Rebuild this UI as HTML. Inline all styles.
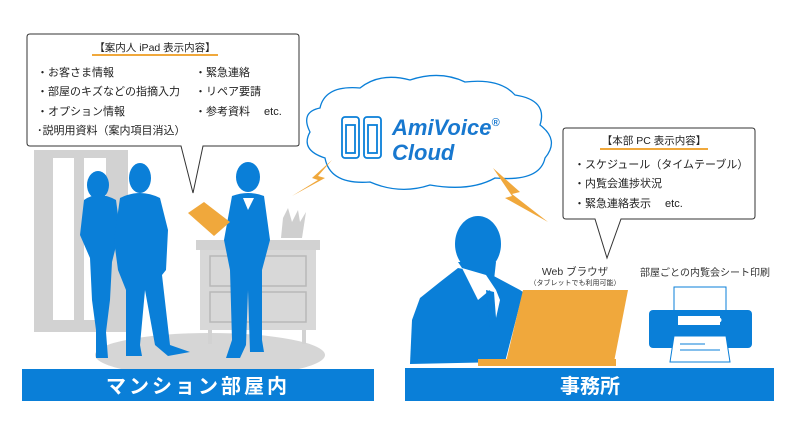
<!DOCTYPE html>
<html><head><meta charset="utf-8"><style>
html,body{margin:0;padding:0;background:#fff;}
svg{display:block;}
text{font-family:"Liberation Sans","Noto Sans CJK JP",sans-serif;}
</style></head><body>
<svg width="800" height="429" viewBox="0 0 800 429" xmlns="http://www.w3.org/2000/svg">
<rect x="34" y="150" width="94" height="182" fill="#d2d2d2"/>
<rect x="53" y="158" width="21" height="162" fill="#fff"/>
<rect x="84" y="158" width="22" height="162" fill="#fff"/>
<ellipse cx="210" cy="355" rx="115" ry="22" fill="#d6d6d6"/>
<rect x="196" y="240" width="124" height="10" fill="#d2d2d2"/>
<rect x="200" y="250" width="116" height="80" fill="#d8d8d8"/>
<rect x="210" y="256" width="96" height="30" fill="#d8d8d8" stroke="#b8b8b8" stroke-width="1.5"/>
<rect x="210" y="292" width="96" height="30" fill="#d8d8d8" stroke="#b8b8b8" stroke-width="1.5"/>
<rect x="208" y="330" width="4" height="14" fill="#d2d2d2"/>
<rect x="302" y="330" width="4" height="14" fill="#d2d2d2"/>
<path d="M281 238 L283 218 L288 208 L292 222 L298 210 L300 222 L306 212 L302 238 Z" fill="#cfcfcf"/>
<g fill="#0a7fd8">
<ellipse cx="98" cy="185" rx="11" ry="14"/>
<path d="M84 200 Q98 190 116 200 L120 230 L112 262 L110 300 L106 332 L108 358 L96 358 L96 330 L92 300 L90 258 L80 235 Z"/>
<ellipse cx="140" cy="178" rx="11" ry="15"/>
<path d="M120 198 Q140 188 160 198 L168 230 L166 270 L162 275 L170 345 L190 352 L168 356 L155 345 L145 290 L140 345 L142 356 L126 356 L126 290 L118 270 L114 240 Z"/>
<ellipse cx="248" cy="177" rx="12" ry="15"/>
<path d="M232 196 Q248 190 264 196 L270 240 L262 270 L262 340 L264 352 L250 352 L248 290 L246 345 L240 358 L226 358 L232 340 L230 270 L224 240 Z"/>
</g>
<path d="M243 198 L248 210 L254 198 Z" fill="#fff"/>
<path d="M188 213 L204 202 L230 222 L214 236 Z" fill="#f0a83c"/>
<path d="M30 34 H296 Q299 34 299 37 V144 Q299 146 296 146 H203 L193 193 L181 146 H30 Q27 146 27 143 V37 Q27 34 30 34 Z" fill="#fff" stroke="#333" stroke-width="1"/>
<text x="155" y="51" font-size="10.5" text-anchor="middle" fill="#222">【案内人 iPad 表示内容】</text>
<rect x="92" y="54" width="126" height="2" fill="#f0a83c"/>
<g font-size="11" fill="#222">
<text x="37" y="76">・お客さま情報</text>
<text x="37" y="95">・部屋のキズなどの指摘入力</text>
<text x="37" y="115">・オプション情報</text>
<text x="37" y="134">･説明用資料（案内項目消込）</text>
<text x="195" y="76">・緊急連絡</text>
<text x="195" y="95">・リペア要請</text>
<text x="195" y="115">・参考資料　 etc.</text>
</g>
<path d="M320 108 Q300 112 310 132 Q300 150 325 158 Q330 185 370 182 Q400 195 430 185 Q470 192 495 178 Q540 182 545 158 Q560 140 540 125 Q548 100 515 95 Q500 78 465 82 Q440 70 410 80 Q380 72 360 88 Q325 85 320 108 Z" fill="#fff" stroke="#0a7fd8" stroke-width="1.3"/>
<g fill="#fff" stroke="#0a7fd8" stroke-width="1.8">
<rect x="342" y="117" width="17" height="41" rx="3"/>
<rect x="364" y="117" width="17" height="41" rx="3"/>
<rect x="346" y="125" width="9" height="28"/>
<rect x="368" y="125" width="9" height="28"/>
</g>
<text x="392" y="135" font-size="22" font-weight="bold" font-style="italic" fill="#1878cf">AmiVoice<tspan font-size="11" dy="-9">®</tspan></text>
<text x="392" y="160" font-size="22" font-weight="bold" font-style="italic" fill="#1878cf">Cloud</text>
<path d="M332 160 L312 178 L318 180 L292 196 L325 178 L318 176 Z" fill="#f0a83c"/>
<path d="M493 168 L520 192 L512 194 L548 222 L505 198 L512 196 Z" fill="#f0a83c"/>
<path d="M566 128 H752 Q755 128 755 131 V216 Q755 219 752 219 H621 L607 258 L595 219 H566 Q563 219 563 216 V131 Q563 128 566 128 Z" fill="#fff" stroke="#333" stroke-width="1"/>
<text x="654" y="144" font-size="10.5" text-anchor="middle" fill="#222">【本部 PC 表示内容】</text>
<rect x="600" y="148" width="108" height="2" fill="#f0a83c"/>
<g font-size="11" fill="#222">
<text x="574" y="168">・スケジュール（タイムテーブル）</text>
<text x="574" y="187">・内覧会進捗状況</text>
<text x="574" y="207">・緊急連絡表示　 etc.</text>
</g>
<g fill="#0a7fd8">
<ellipse cx="478" cy="244" rx="23" ry="28"/>
<path d="M458 262 L496 262 L494 280 L470 280 Z"/>
<path d="M458 268 L490 274 L520 290 L523 292 L505 362 L410 364 L412 320 L420 298 L440 282 Z"/>
</g>
<path d="M462 268 L478 300 L490 290 L496 318 L500 300 L496 290 L486 275 Z" fill="#fff"/>
<path d="M486 290 L494 292 L496 318 L490 330 Z" fill="#0a7fd8"/>
<path d="M523 290 L628 290 L614 362 L506 362 Z" fill="#f0a83c"/>
<rect x="478" y="359" width="138" height="7" fill="#f0a83c"/>
<text x="575" y="275" font-size="10.5" text-anchor="middle" fill="#333">Web ブラウザ</text>
<text x="575" y="285" font-size="7" text-anchor="middle" fill="#333">（タブレットでも利用可能）</text>
<text x="705" y="276" font-size="10" text-anchor="middle" fill="#333">部屋ごとの内覧会シート印刷</text>
<rect x="674" y="287" width="52" height="26" fill="#fff" stroke="#0a7fd8" stroke-width="1"/>
<rect x="649" y="310" width="103" height="38" rx="4" fill="#0a7fd8"/>
<rect x="678" y="316" width="42" height="9" fill="#fff"/>
<circle cx="719" cy="320" r="2.5" fill="#fff"/>
<path d="M674 336 H726 L730 362 H670 Z" fill="#fff" stroke="#0a7fd8" stroke-width="1"/>
<line x1="680" y1="344" x2="705" y2="344" stroke="#0a7fd8" stroke-width="1"/>
<line x1="680" y1="350" x2="720" y2="350" stroke="#0a7fd8" stroke-width="1"/>
<rect x="22" y="369" width="352" height="32" fill="#0a7fd8"/>
<text x="198" y="393" font-size="20" font-weight="bold" text-anchor="middle" fill="#fff" letter-spacing="3">マンション部屋内</text>
<rect x="405" y="368" width="369" height="33" fill="#0a7fd8"/>
<text x="590" y="393" font-size="20" font-weight="bold" text-anchor="middle" fill="#fff">事務所</text>
</svg>
</body></html>
